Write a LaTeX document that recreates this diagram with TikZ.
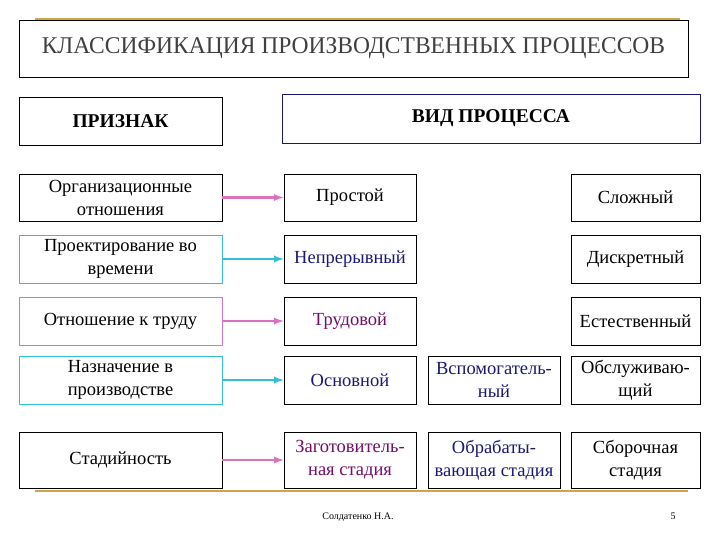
\documentclass[tikz,border=0pt]{standalone}
\usepackage{fontspec}
\setmainfont{Liberation Serif}
\definecolor{pinkline}{rgb}{0.85,0.45,0.75}
\definecolor{cyanline}{rgb}{0.2,0.75,0.85}
\definecolor{darkblue}{rgb}{0.1,0.1,0.45}
\definecolor{purpletext}{rgb}{0.45,0.05,0.4}
\definecolor{goldline}{rgb}{0.8,0.65,0.3}
\begin{document}
\begin{tikzpicture}
  [x=1pt,y=-1pt,
   box/.style={draw,thick,inner sep=0pt,align=center,font=\fontsize{18.5}{23}\selectfont},
   arr/.style={line width=2.2pt,-latex}]

  \useasboundingbox (0,0) rectangle (720,540);
  \draw[goldline,line width=1.5pt] (35,19) -- (680,19);
  \draw[goldline,line width=2pt] (35,491) -- (688,491);

  \node[box,minimum width=669,minimum height=57,text=black!75,font=\fontsize{24}{26}\selectfont] (title) at (353.5,48.5) {\scalebox{0.98}[1]{КЛАССИФИКАЦИЯ ПРОИЗВОДСТВЕННЫХ ПРОЦЕССОВ}};
  \node[box,minimum width=203,minimum height=48,font=\bfseries\fontsize{19.5}{22}\selectfont] (sign) at (120.5,121) {ПРИЗНАК};
  \node[box,draw=darkblue,minimum width=418,minimum height=49,font=\bfseries\fontsize{19.5}{22}\selectfont] (kind) at (491,118.5) {ВИД ПРОЦЕССА};

  % left column
  \node[box,minimum width=203,minimum height=47] (s1) at (120.5,197.5) {Организационные\\отношения};
  \node[box,draw=cyanline,minimum width=203,minimum height=48] (s2) at (120.5,259) {Проектирование во\\времени};
  \node[box,draw=pinkline,minimum width=203,minimum height=48] (s3) at (120.5,321) {Отношение к труду};
  \node[box,draw=cyanline,minimum width=203,minimum height=48] (s4) at (120.5,380) {Назначение в\\производстве};
  \node[box,minimum width=203,minimum height=56] (s5) at (120.5,460) {Стадийность};

  % middle column
  \node[box,minimum width=132,minimum height=47] (p1) at (350,197.5) {Простой};
  \node[box,minimum width=132,minimum height=48,text=darkblue] (p2) at (350,259) {Непрерывный};
  \node[box,minimum width=132,minimum height=48,text=purpletext] (p3) at (350,321) {Трудовой};
  \node[box,minimum width=132,minimum height=48,text=darkblue] (p4) at (350,380) {Основной};
  \node[box,minimum width=132,minimum height=56,text=purpletext] (p5) at (350,460) {Заготовитель-\\ная стадия};

  \node[box,minimum width=132,minimum height=48,text=darkblue] (q4) at (494,380) {Вспомогатель-\\ный};
  \node[box,minimum width=132,minimum height=56,text=darkblue] (q5) at (494,460) {Обрабаты-\\вающая стадия};

  % right column
  \node[box,minimum width=129,minimum height=47] (r1) at (635.5,197.5) {Сложный};
  \node[box,minimum width=129,minimum height=48] (r2) at (635.5,259) {Дискретный};
  \node[box,minimum width=129,minimum height=48] (r3) at (635.5,321) {Естественный};
  \node[box,minimum width=129,minimum height=48] (r4) at (635.5,380) {Обслуживаю-\\щий};
  \node[box,minimum width=129,minimum height=56] (r5) at (635.5,460) {Сборочная\\стадия};

  \foreach \from/\to/\col in {s1/p1/pinkline,s2/p2/cyanline,s3/p3/pinkline,s4/p4/cyanline,s5/p5/pinkline}
    \draw[arr,\col] (\from) -- (\to);

  \node[font=\fontsize{10}{12}\selectfont] (author) at (358,517) {Солдатенко Н.А.};
  \node[font=\fontsize{10}{12}\selectfont] (page) at (673,516) {5};
\end{tikzpicture}
\end{document}
